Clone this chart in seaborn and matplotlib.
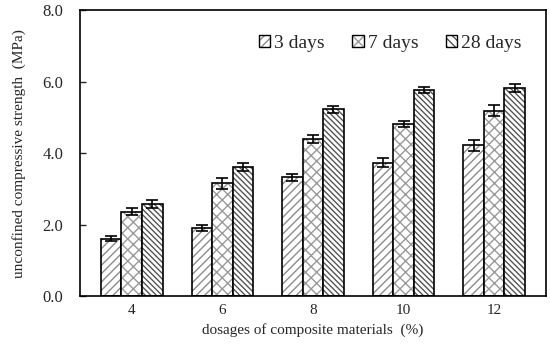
import matplotlib
matplotlib.use("Agg")
import matplotlib.pyplot as plt
import seaborn as sns
import pandas as pd
import numpy as np
from matplotlib.patches import Patch

dosages = ["4", "6", "8", "10", "12"]
ages = ["3 days", "7 days", "28 days"]
s3 = [1.61, 1.91, 3.32, 3.73, 4.22]
s7 = [2.36, 3.16, 4.40, 4.82, 5.19]
s28 = [2.58, 3.61, 5.22, 5.76, 5.82]
e3 = [0.07, 0.09, 0.10, 0.12, 0.16]
e7 = [0.10, 0.15, 0.12, 0.09, 0.15]
e28 = [0.11, 0.11, 0.09, 0.08, 0.11]

df = pd.DataFrame({
    "dosage": dosages * 3,
    "age": [a for a in ages for _ in dosages],
    "value": s3 + s7 + s28,
})

sns.set_style("white")
plt.rcParams["font.family"] = ["Liberation Serif", "DejaVu Serif"]
plt.rcParams["hatch.linewidth"] = 1.0

fig = plt.figure(figsize=(5.5, 3.48), dpi=100)
ax = fig.add_axes([0.145, 0.149, 0.848, 0.822])

palette = {a: "white" for a in ages}
sns.barplot(data=df, x="dosage", y="value", hue="age", order=dosages,
            hue_order=ages, palette=palette, errorbar=None, width=0.68,
            edgecolor="black", linewidth=1.2, ax=ax, legend=False)

hatches = ["////", "xxx", "\\\\\\\\\\\\"]
hcolors = ["#8c8c8c", "#9a9a9a", "#555555"]


def style(p, h, c):
    p.set_edgecolor("black")
    p.set_hatch(h)
    if hasattr(p, "set_hatchcolor"):
        p.set_hatchcolor(c)
    else:
        p._hatch_color = matplotlib.colors.to_rgba(c)


bar_containers = list(ax.containers)
for i, cont in enumerate(bar_containers):
    errs = [e3, e7, e28][i]
    for bar, e in zip(cont, errs):
        style(bar, hatches[i], hcolors[i])
        x = bar.get_x() + bar.get_width() / 2
        ax.errorbar(x, bar.get_height(), yerr=e, color="black",
                    capsize=4, elinewidth=1.2, capthick=1.2, zorder=5)

ax.set_ylim(0, 8)
ax.set_yticks(np.arange(0, 8.01, 2))
ax.set_yticklabels([f"{v:.1f}" for v in np.arange(0, 8.01, 2)], fontsize=12)
ax.tick_params(axis="y", direction="in", length=4, width=1, left=True, pad=12)
ax.tick_params(axis="x", length=0, labelsize=11, pad=6)
for sp in ax.spines.values():
    sp.set_linewidth(1.2)
    sp.set_color("black")
ax.set_xlabel("dosages of composite materials  (%)", fontsize=11)
ax.set_ylabel("unconfined compressive strength  (MPa)", fontsize=11, labelpad=12)

handles = []
for h, c, a in zip(["////", "xx", "\\\\\\\\"], hcolors, ages):
    p = Patch(facecolor="white", label=a)
    style(p, h, c)
    handles.append(p)
leg = ax.legend(handles=handles, ncol=3, frameon=False, loc="upper right",
                bbox_to_anchor=(0.985, 0.975), fontsize=14, handlelength=0.6,
                handleheight=0.6, handletextpad=0.2, columnspacing=1.4)

fig.savefig("out.png", dpi=100)
